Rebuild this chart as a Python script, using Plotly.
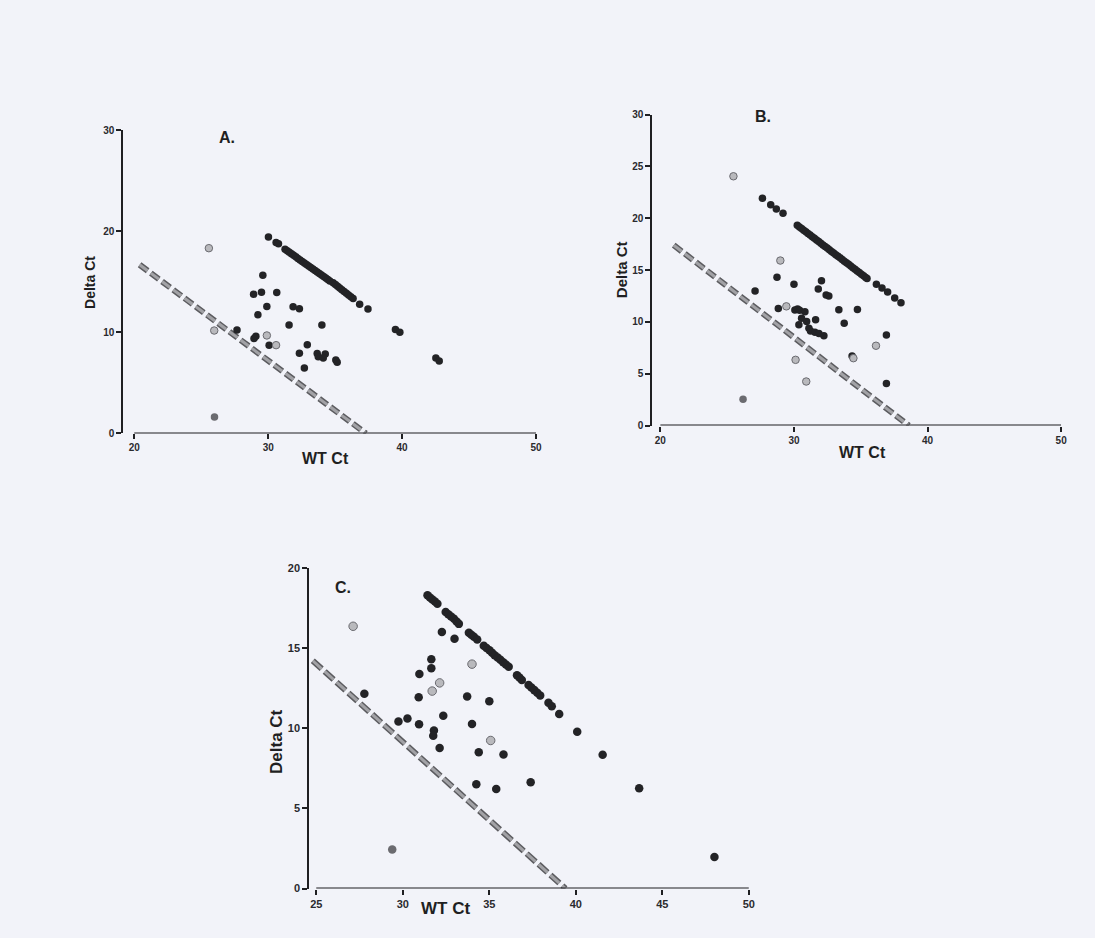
import plotly.graph_objects as go

# ---------------- Panel A ----------------
a_black_x = [29.6, 28.91, 29.5, 30.64, 29.9, 31.86, 32.33, 29.23, 31.56, 34.01, 27.67,
             28.94, 29.08, 30.07, 32.92, 32.33, 33.66, 33.74, 34.26, 34.11, 35.05, 35.15,
             32.7, 39.5, 39.83, 42.52, 42.77]
a_black_y = [15.67, 13.79, 13.98, 13.95, 12.57, 12.55, 12.35, 11.74, 10.74, 10.74, 10.24,
             9.4, 9.62, 8.72, 8.78, 7.95, 7.92, 7.59, 7.87, 7.48, 7.27, 7.04,
             6.48, 10.29, 10.02, 7.48, 7.18]
a_band_x = [30.02, 30.59, 30.77, 31.26, 31.42, 31.58, 31.74, 31.9, 32.06, 32.22, 32.38,
            32.54, 32.7, 32.86, 33.02, 33.18, 33.34, 33.5, 33.66, 33.82, 33.98, 34.14,
            34.3, 34.45, 34.6, 34.85, 35.02, 35.18, 35.34, 35.5, 35.67, 35.84, 36.0,
            36.17, 36.34, 36.83, 37.45]
a_band_y = [19.45, 18.9, 18.77, 18.23, 18.08, 17.93, 17.78, 17.63, 17.48, 17.33, 17.18,
            17.03, 16.88, 16.73, 16.58, 16.43, 16.28, 16.13, 15.98, 15.83, 15.68, 15.53,
            15.38, 15.24, 15.1, 14.92, 14.74, 14.57, 14.4, 14.23, 14.05, 13.88, 13.71,
            13.53, 13.36, 12.8, 12.32]
a_light_x = [25.57, 25.97, 29.9, 30.59]
a_light_y = [18.34, 10.19, 9.7, 8.74]
a_mid_x = [25.99]
a_mid_y = [1.62]
a_cut_x = [20.4, 37.3]
a_cut_y = [16.7, 0.0]

# ---------------- Panel B ----------------
b_black_x = [27.09, 28.73, 28.83, 30.0, 30.07, 30.27, 30.42, 30.82, 30.57, 30.95, 31.62,
             30.37, 31.12, 31.24, 31.57, 31.87, 32.24, 31.82, 32.06, 32.41, 32.61, 33.36,
             33.76, 34.75, 34.35, 36.92, 36.92]
b_black_y = [12.99, 14.31, 11.29, 13.64, 11.16, 11.25, 11.12, 10.98, 10.36, 10.03, 10.2,
             9.73, 9.39, 9.13, 9.0, 8.89, 8.66, 13.18, 13.97, 12.59, 12.49, 11.17,
             9.86, 11.2, 6.7, 8.73, 4.06]
b_band_x = [27.64, 28.26, 28.68, 29.18,
            30.25, 30.41, 30.57, 30.73, 30.89, 31.05, 31.21, 31.37, 31.53, 31.69, 31.85,
            32.01, 32.17, 32.33, 32.49, 32.65, 32.81, 32.97, 33.13, 33.29, 33.45, 33.61,
            33.77, 33.93, 34.09, 34.25, 34.41, 34.57, 34.73, 34.89, 35.05, 35.21, 35.37,
            35.47, 36.17, 36.59, 37.01, 37.54, 38.01]
b_band_y = [21.94, 21.3, 20.88, 20.49,
            19.32, 19.16, 19.0, 18.85, 18.69, 18.53, 18.38, 18.22, 18.06, 17.9, 17.75,
            17.59, 17.43, 17.28, 17.12, 16.96, 16.8, 16.65, 16.49, 16.33, 16.18, 16.02,
            15.86, 15.7, 15.55, 15.39, 15.23, 15.07, 14.92, 14.76, 14.6, 14.45, 14.29,
            14.19, 13.64, 13.28, 12.88, 12.3, 11.84]
b_light_x = [25.47, 28.98, 29.43, 30.12, 30.92, 36.14, 34.45]
b_light_y = [24.05, 15.92, 11.5, 6.34, 4.25, 7.7, 6.5]
b_mid_x = [26.19]
b_mid_y = [2.54]
b_cut_x = [21.0, 38.6]
b_cut_y = [17.4, 0.0]

# ---------------- Panel C ----------------
c_black_x = [27.78, 29.75, 30.27, 30.94, 30.92, 30.96, 31.65, 31.65, 31.8, 31.76, 32.13,
             32.34, 32.26, 32.99, 33.72, 34.0, 35.0, 34.39, 35.82, 34.25, 35.4, 37.39,
             40.08, 41.55, 43.66, 48.01]
c_black_y = [12.14, 10.42, 10.6, 10.24, 11.92, 13.38, 14.3, 13.73, 9.85, 9.52, 8.76,
             10.78, 15.99, 15.57, 11.97, 10.26, 11.67, 8.5, 8.35, 6.5, 6.21, 6.62,
             9.78, 8.34, 6.26, 1.97]
c_band_x = [31.43, 31.57, 31.71, 31.86, 32.0,
            32.48, 32.63, 32.79, 32.96, 33.11, 33.24,
            33.82, 33.96, 34.11, 34.3,
            34.68, 34.84, 35.01, 35.16, 35.31, 35.48, 35.64, 35.8, 35.96, 36.12,
            36.6, 36.74, 36.88,
            37.27, 37.43, 37.6, 37.77, 37.94,
            38.42, 38.61, 39.04]
c_band_y = [18.29, 18.15, 18.02, 17.89, 17.76,
            17.24, 17.1, 16.96, 16.82, 16.65, 16.5,
            15.94, 15.82, 15.7, 15.52,
            15.14, 15.0, 14.85, 14.7, 14.55, 14.4, 14.26, 14.11, 13.96, 13.82,
            13.3, 13.15, 13.0,
            12.69, 12.53, 12.37, 12.2, 12.04,
            11.58, 11.37, 10.88]
c_light_x = [27.13, 34.0, 32.13, 31.7, 35.08]
c_light_y = [16.35, 13.99, 12.82, 12.31, 9.23]
c_mid_x = [29.39]
c_mid_y = [2.43]
c_cut_x = [24.8, 39.4]
c_cut_y = [14.2, 0.0]

# tick labels
a_xticks = [20, 30, 40, 50]
a_yticks = [0, 10, 20, 30]
b_xticks = [20, 30, 40, 50]
b_yticks = [0, 5, 10, 15, 20, 25, 30]
c_xticks = [25, 30, 35, 40, 45, 50]
c_yticks = [0, 5, 10, 15, 20]

W, H = 1095, 938
BG = "#f2f3f9"
INK = "#1f1f22"
FONT = "Liberation Sans"


def px(x):
    return x / W


def py(y):
    return 1 - y / H


panels = [
    dict(key="", black=(a_black_x, a_black_y), band=(a_band_x, a_band_y),
         light=(a_light_x, a_light_y), mid=(a_mid_x, a_mid_y), cut=(a_cut_x, a_cut_y),
         xt=a_xticks, yt=a_yticks, left=124, x0px=135, x1px=539, top=126, bot=433,
         msize=7.5, tick=10, dash="10px,4px"),
    dict(key="2", black=(b_black_x, b_black_y), band=(b_band_x, b_band_y),
         light=(b_light_x, b_light_y), mid=(b_mid_x, b_mid_y), cut=(b_cut_x, b_cut_y),
         xt=b_xticks, yt=b_yticks, left=656, x0px=664, x1px=1067, top=110, bot=425,
         msize=7.5, tick=10, dash="10px,4px"),
    dict(key="3", black=(c_black_x, c_black_y), band=(c_band_x, c_band_y),
         light=(c_light_x, c_light_y), mid=(c_mid_x, c_mid_y), cut=(c_cut_x, c_cut_y),
         xt=c_xticks, yt=c_yticks, left=311, x0px=318, x1px=753, top=569, bot=894,
         msize=8.5, tick=11, dash="12px,4px"),
]

fig = go.Figure()
layout = dict(width=W, height=H, margin=dict(l=0, r=0, t=0, b=0),
              paper_bgcolor=BG, plot_bgcolor="rgba(0,0,0,0)", showlegend=False,
              font=dict(family=FONT, color=INK))
shapes = []

for p in panels:
    xa = "x" + p["key"]
    ya = "y" + p["key"]
    xt, yt = p["xt"], p["yt"]
    ppu = (p["x1px"] - p["x0px"]) / (xt[-1] - xt[0])
    xmin = xt[0] - (p["x0px"] - p["left"]) / ppu

    # threshold line: dark rim under a lighter gray core
    fig.add_trace(go.Scatter(x=p["cut"][0], y=p["cut"][1], mode="lines", xaxis=xa, yaxis=ya,
                             line=dict(color="#5c5c60", width=6, dash=p["dash"])))
    fig.add_trace(go.Scatter(x=p["cut"][0], y=p["cut"][1], mode="lines", xaxis=xa, yaxis=ya,
                             line=dict(color="#a2a2a6", width=3, dash=p["dash"])))
    # undetected-mutant band and individual samples
    fig.add_trace(go.Scatter(x=p["band"][0], y=p["band"][1], mode="markers", xaxis=xa, yaxis=ya,
                             cliponaxis=False,
                             marker=dict(size=p["msize"], color="#232326", line=dict(width=0))))
    fig.add_trace(go.Scatter(x=p["black"][0], y=p["black"][1], mode="markers", xaxis=xa, yaxis=ya,
                             cliponaxis=False,
                             marker=dict(size=p["msize"], color="#232326", line=dict(width=0))))
    fig.add_trace(go.Scatter(x=p["light"][0], y=p["light"][1], mode="markers", xaxis=xa, yaxis=ya,
                             cliponaxis=False,
                             marker=dict(size=p["msize"], color="#b9b9bd",
                                         line=dict(width=1, color="#6a6a70"))))
    fig.add_trace(go.Scatter(x=p["mid"][0], y=p["mid"][1], mode="markers", xaxis=xa, yaxis=ya,
                             cliponaxis=False,
                             marker=dict(size=p["msize"], color="#6b6b70", line=dict(width=0))))

    axis_common = dict(showgrid=False, zeroline=False, ticks="outside", ticklen=5, tickwidth=2,
                       tickcolor=INK,
                       tickfont=dict(family=FONT, size=p["tick"], color="#2a2a2e", weight="bold"))
    layout["xaxis" + p["key"]] = dict(
        axis_common, domain=[px(p["left"]), px(p["x1px"])], range=[xmin, xt[-1]],
        tickvals=xt, ticktext=[str(v) for v in xt], showline=False, anchor=ya)
    layout["yaxis" + p["key"]] = dict(
        axis_common, domain=[py(p["bot"]), py(p["top"])], range=[yt[0], yt[-1]],
        tickvals=yt, ticktext=[str(v) for v in yt], showline=True, linewidth=2,
        linecolor=INK, anchor=xa)
    # x axis line starts at the first tick, offset from the y axis
    shapes.append(dict(type="line", xref=xa, yref=ya, x0=xt[0], x1=xt[-1], y0=0, y1=0,
                       line=dict(color=INK, width=2)))

layout["shapes"] = shapes


def label(text, x, y, size, angle=0):
    return dict(text="<b>%s</b>" % text, x=px(x), y=py(y), xref="paper", yref="paper",
                showarrow=False, textangle=angle, xanchor="center", yanchor="middle",
                font=dict(family=FONT, size=size, color=INK))


layout["annotations"] = [
    label("A.", 228, 133, 16),
    label("WT Ct", 327, 458, 16),
    label("Delta Ct", 91, 280, 14, -90),
    label("B.", 767, 112, 16),
    label("WT Ct", 867, 452, 16),
    label("Delta Ct", 625, 267, 15, -90),
    label("C.", 345, 589, 16),
    label("WT Ct", 448, 914, 17),
    label("Delta Ct", 278, 745, 17, -90),
]

fig.update_layout(**layout)
fig.write_html("out.html")
